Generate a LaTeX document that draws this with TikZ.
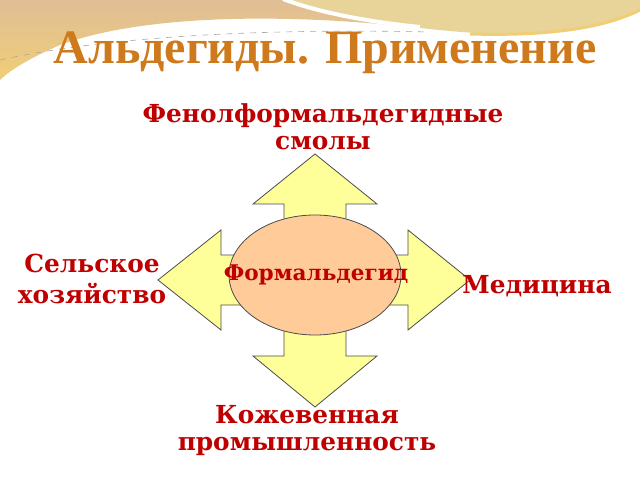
\documentclass[tikz,border=0pt]{standalone}
\usepackage{fontspec}
\setmainfont{Liberation Serif}
\newfontfamily\lblfont{DejaVu Serif}
\usetikzlibrary{shapes.geometric}
\definecolor{lblred}{RGB}{192,0,0}
\definecolor{ttlorange}{RGB}{206,122,28}
\definecolor{arrowyellow}{RGB}{255,255,153}
\definecolor{ovalpeach}{RGB}{255,204,153}
\definecolor{bgtan}{RGB}{224,190,150}
\definecolor{bggold}{RGB}{240,206,118}
\definecolor{bgbeige}{RGB}{232,212,152}

\tikzset{
	lbl/.style={font=\lblfont\bfseries\fontsize{12.4}{13.5}\selectfont, text=lblred, align=center, inner sep=0pt, anchor=base},
	oval/.style={ellipse, draw=black!70, fill=ovalpeach, minimum width=86pt, minimum height=60pt, inner sep=0pt},
	quad/.style={draw=black!70, fill=arrowyellow, line join=miter}
}

\begin{document}
\begin{tikzpicture}[x=0.5pt,y=-0.5pt]
	\useasboundingbox (0,0) rectangle (640,480);
	\fill[white] (0,0) rectangle (640,480);
	% top swoosh
	\shade[top color=bgtan, bottom color=bggold] (0,0) -- (290,0) .. controls (320,12) and (370,22) .. (410,27) .. controls (300,15) and (150,12) .. (60,45) .. controls (30,58) and (10,70) .. (0,80) -- cycle;
	\fill[bgbeige] (283,0) -- (640,0) -- (640,10) .. controls (600,32) and (540,36) .. (490,34) .. controls (420,30) and (330,18) .. (283,0) -- cycle;
	\draw[bggold, line width=1.5] (470,34) .. controls (540,36) and (600,30) .. (640,10);
	\draw[white, line width=2] (283,-1) .. controls (320,13) and (370,22) .. (420,27);
	\draw[black!35, dashed, line width=0.3] (0,60) .. controls (100,38) and (250,28) .. (430,32);
	\node[font=\bfseries\fontsize{24}{26}\selectfont, text=ttlorange, anchor=base] (title) at (325,64) {Альдегиды. Применение};
	\draw[quad] (315,154) -- (377,204) -- (346,204) -- (346,255) -- (408,255) -- (408,230) -- (470,280) -- (408,330) -- (408,305) -- (346,305) -- (346,356) -- (377,356) -- (315,407) -- (253,356) -- (284,356) -- (284,305) -- (221,305) -- (221,330) -- (158,280) -- (221,230) -- (221,255) -- (284,255) -- (284,204) -- (253,204) -- cycle;
	\node[oval] (form) at (315,275) {};
	\node[lbl, font=\lblfont\bfseries\fontsize{10.8}{12}\selectfont] (formtext) at (316,280) {Формальдегид};
	\node[lbl] (resin) at (323,150) {Фенолформальдегидные\\смолы};
	\node[lbl, font=\lblfont\bfseries\fontsize{12.4}{15.5}\selectfont] (agro) at (92,303) {Сельское\\хозяйство};
	\node[lbl] (med) at (537,293) {Медицина};
	\node[lbl] (leather) at (307,450) {Кожевенная\\промышленность};
\end{tikzpicture}
\end{document}
